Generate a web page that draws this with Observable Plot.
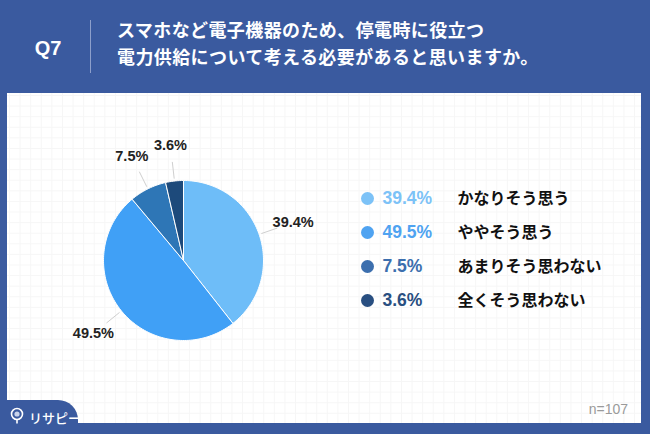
<!DOCTYPE html>
<html><head><meta charset="utf-8">
<script src="https://cdn.jsdelivr.net/npm/d3@7"></script>
<script src="https://cdn.jsdelivr.net/npm/@observablehq/plot@0.6"></script>
<style>
html,body{margin:0;padding:0;}
body{width:650px;height:434px;background:#3a5a9f;position:relative;overflow:hidden;font-family:"Noto Sans CJK JP","Liberation Sans",sans-serif;}
#q{position:absolute;left:22px;top:33px;width:52px;text-align:center;color:#fff;font:bold 20px "Liberation Sans",Arial,sans-serif;line-height:30px;}
#div{position:absolute;left:90px;top:20px;width:1px;height:53px;background:#8d9fcb;}
#title{position:absolute;left:117px;top:16px;color:#fff;font-weight:bold;font-size:18px;line-height:27px;letter-spacing:0.4px;font-family:"Noto Sans CJK JP",sans-serif;}
#panel{position:absolute;left:7px;top:93px;width:634px;height:330px;background-color:#fff;
background-image:linear-gradient(to right,#f6f6f6 1px,transparent 1px),linear-gradient(to bottom,#f6f6f6 1px,transparent 1px);
background-size:10.6px 10.6px;background-position:2px 2px;}
#pie{position:absolute;left:0;top:0;}
#legend{position:absolute;left:348px;top:87px;}
#n{position:absolute;right:22px;top:401px;color:#9a9a9a;font:14px "Liberation Sans",Arial,sans-serif;}
#logo{position:absolute;left:0;top:400px;width:78px;height:34px;background:#3a5a9f;border-top-right-radius:20px;}
#logotext{position:absolute;left:29px;top:408px;color:#fff;font:500 13px "Noto Sans CJK JP",sans-serif;letter-spacing:0px;}
#pin{position:absolute;left:9px;top:407px;}
svg{overflow:visible;}
</style></head>
<body>
<div id="q">Q7</div>
<div id="div"></div>
<div id="title">スマホなど電子機器のため、停電時に役立つ<br>電力供給について考える必要があると思いますか。</div>
<div id="panel"><div id="pie"></div><div id="legend"></div></div>
<div id="logo"></div>
<svg id="pin" width="16" height="18" viewBox="0 0 16 18"><circle cx="8" cy="7" r="5.5" fill="none" stroke="#fff" stroke-width="1.6"/><circle cx="8" cy="7" r="2.6" fill="#c9d3ea"/><line x1="8" y1="12.5" x2="8" y2="16.5" stroke="#fff" stroke-width="1.6"/></svg>
<div id="logotext">リサピー</div>
<div id="n">n=107</div>
<script>
const categories = ["かなりそう思う","ややそう思う","あまりそう思わない","全くそう思わない"];
const values = [39.4, 49.5, 7.5, 3.6];
const pieColors = ["#6ebdf8","#40a0f6","#2e76b6","#1d4a7b"];
const legendColors = ["#7cc2f7","#4fa3f1","#3c6fae","#294f81"];

const total = d3.sum(values);
const rows = categories.map((c,i)=>({category:c, value:values[i], label:values[i].toFixed(1)+"%"}));
let acc = 0;
rows.forEach(r=>{ r.a0 = acc/total*2*Math.PI; acc += r.value; r.a1 = acc/total*2*Math.PI; r.mid=(r.a0+r.a1)/2; });

// slice outlines (unit circle, clockwise from 12 o'clock)
const outline = [];
rows.forEach(r=>{
  const n = Math.max(4, Math.ceil((r.a1-r.a0)/(2*Math.PI)*240));
  outline.push({category:r.category, x:0, y:0});
  for(let k=0;k<=n;k++){ const a=r.a0+(r.a1-r.a0)*k/n; outline.push({category:r.category, x:Math.sin(a), y:Math.cos(a)}); }
  outline.push({category:r.category, x:0, y:0});
});
const links = rows.map(r=>({x1:1.03*Math.sin(r.mid), y1:1.03*Math.cos(r.mid), x2:1.24*Math.sin(r.mid), y2:1.24*Math.cos(r.mid)}));
const labels = rows.map(r=>({label:r.label, x:1.45*Math.sin(r.mid), y:1.45*Math.cos(r.mid)}));

const cx = 176, cy = 167, R = 80;
const pie = Plot.plot({
  width:634, height:330, margin:0,
  style:{background:"transparent", overflow:"visible"},
  x:{domain:[-1,1], range:[cx-R, cx+R], axis:null},
  y:{domain:[-1,1], range:[cy+R, cy-R], axis:null},
  color:{domain:categories, range:pieColors},
  marks:[
    Plot.line(outline, {x:"x", y:"y", z:"category", fill:"category", stroke:"#fff", strokeWidth:1, curve:"linear"}),
    Plot.link(links, {x1:"x1", y1:"y1", x2:"x2", y2:"y2", stroke:"#cfcfcf", strokeWidth:1}),
    Plot.text(labels, {x:"x", y:"y", text:"label", fill:"#222", fontSize:14.5, fontWeight:"600", fontFamily:"'Liberation Sans',Arial,sans-serif"})
  ]
});
document.getElementById("pie").appendChild(pie);

const legend = Plot.plot({
  width:280, height:140, margin:0,
  style:{background:"transparent", overflow:"visible"},
  y:{type:"point", domain:categories, range:[17,121], padding:0, axis:null},
  color:{domain:categories, range:legendColors},
  marks:[
    Plot.dot(rows, {y:"category", frameAnchor:"left", dx:12, r:6.5, fill:"category"}),
    Plot.text(rows, {y:"category", text:"label", frameAnchor:"left", dx:27, textAnchor:"start", fill:"category", fontSize:17.5, fontWeight:"600", fontFamily:"'Liberation Sans',Arial,sans-serif"}),
    Plot.text(rows, {y:"category", text:"category", frameAnchor:"left", dx:102, textAnchor:"start", fill:"#111", fontSize:16, fontWeight:"bold", fontFamily:"'Noto Sans CJK JP',sans-serif"})
  ]
});
document.getElementById("legend").appendChild(legend);
</script>
</body></html>
